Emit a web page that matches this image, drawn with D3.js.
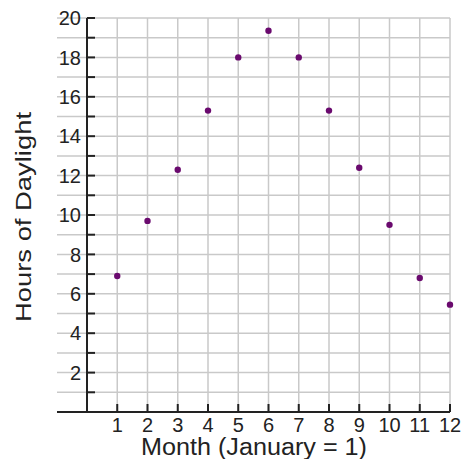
<!DOCTYPE html>
<html>
<head>
<meta charset="utf-8">
<script src="https://cdn.jsdelivr.net/npm/d3@7"></script>
<style>
  body { margin: 0; background: #fff; }
  text { font-family: "Liberation Sans", Arial, sans-serif; fill: #222; }
</style>
</head>
<body>
<div class="chart"></div>
<script>
// months and hours of daylight
var months = [1, 2, 3, 4, 5, 6, 7, 8, 9, 10, 11, 12];
var hours = [6.9, 9.7, 12.3, 15.3, 18.0, 19.35, 18.0, 15.3, 12.4, 9.5, 6.8, 5.45];
var yTickLabels = [2, 4, 6, 8, 10, 12, 14, 16, 18, 20];

var svgWidth = 462, svgHeight = 459;
var x = d3.scaleLinear().domain([0, 12]).range([87, 450]);
var y = d3.scaleLinear().domain([0, 20]).range([412, 18]);

var svg = d3.select(".chart").append("svg").attr("width", svgWidth).attr("height", svgHeight);

// grid
var grid = svg.append("g").attr("stroke", "#c9c9c9").attr("stroke-width", 1.5);
grid.selectAll("line.h").data(d3.range(1, 21)).enter().append("line")
  .attr("x1", 57).attr("x2", x(12)).attr("y1", d => y(d)).attr("y2", d => y(d));
grid.selectAll("line.v").data(months).enter().append("line")
  .attr("x1", d => x(d)).attr("x2", d => x(d)).attr("y1", y(20)).attr("y2", y(0));

// axes
var axisColor = "#222";
svg.append("line").attr("x1", x(0)).attr("x2", x(0)).attr("y1", y(20)).attr("y2", y(0))
  .attr("stroke", axisColor).attr("stroke-width", 2);
svg.append("line").attr("x1", 57).attr("x2", x(12)).attr("y1", y(0)).attr("y2", y(0))
  .attr("stroke", axisColor).attr("stroke-width", 2);
svg.selectAll("line.yt").data(d3.range(1, 21)).enter().append("line")
  .attr("x1", x(0)).attr("x2", x(0) + 8).attr("y1", d => y(d)).attr("y2", d => y(d))
  .attr("stroke", axisColor).attr("stroke-width", 2);
svg.selectAll("line.xt").data(months).enter().append("line")
  .attr("x1", d => x(d)).attr("x2", d => x(d)).attr("y1", y(0)).attr("y2", y(0) - 8)
  .attr("stroke", axisColor).attr("stroke-width", 2);

// tick labels
svg.selectAll("text.yl").data(yTickLabels).enter().append("text")
  .attr("x", 81).attr("y", d => y(d)).attr("dy", "0.36em").attr("text-anchor", "end")
  .attr("font-size", "20px").text(d => d);
svg.selectAll("text.xl").data(months).enter().append("text")
  .attr("x", d => x(d)).attr("y", 432).attr("text-anchor", "middle")
  .attr("font-size", "20px").text(d => d);

// axis titles
svg.append("text").attr("x", 254).attr("y", 455).attr("text-anchor", "middle")
  .attr("font-size", "23px").attr("textLength", 226).attr("lengthAdjust", "spacingAndGlyphs")
  .text("Month (January = 1)");
svg.append("text").attr("transform", "translate(31, 217) rotate(-90)").attr("text-anchor", "middle")
  .attr("font-size", "22px").attr("textLength", 210).attr("lengthAdjust", "spacingAndGlyphs")
  .text("Hours of Daylight");

// points
svg.selectAll("circle").data(months).enter().append("circle")
  .attr("cx", d => x(d)).attr("cy", (d, i) => y(hours[i])).attr("r", 3.2)
  .attr("fill", "#6a0a6e");
</script>
</body>
</html>
